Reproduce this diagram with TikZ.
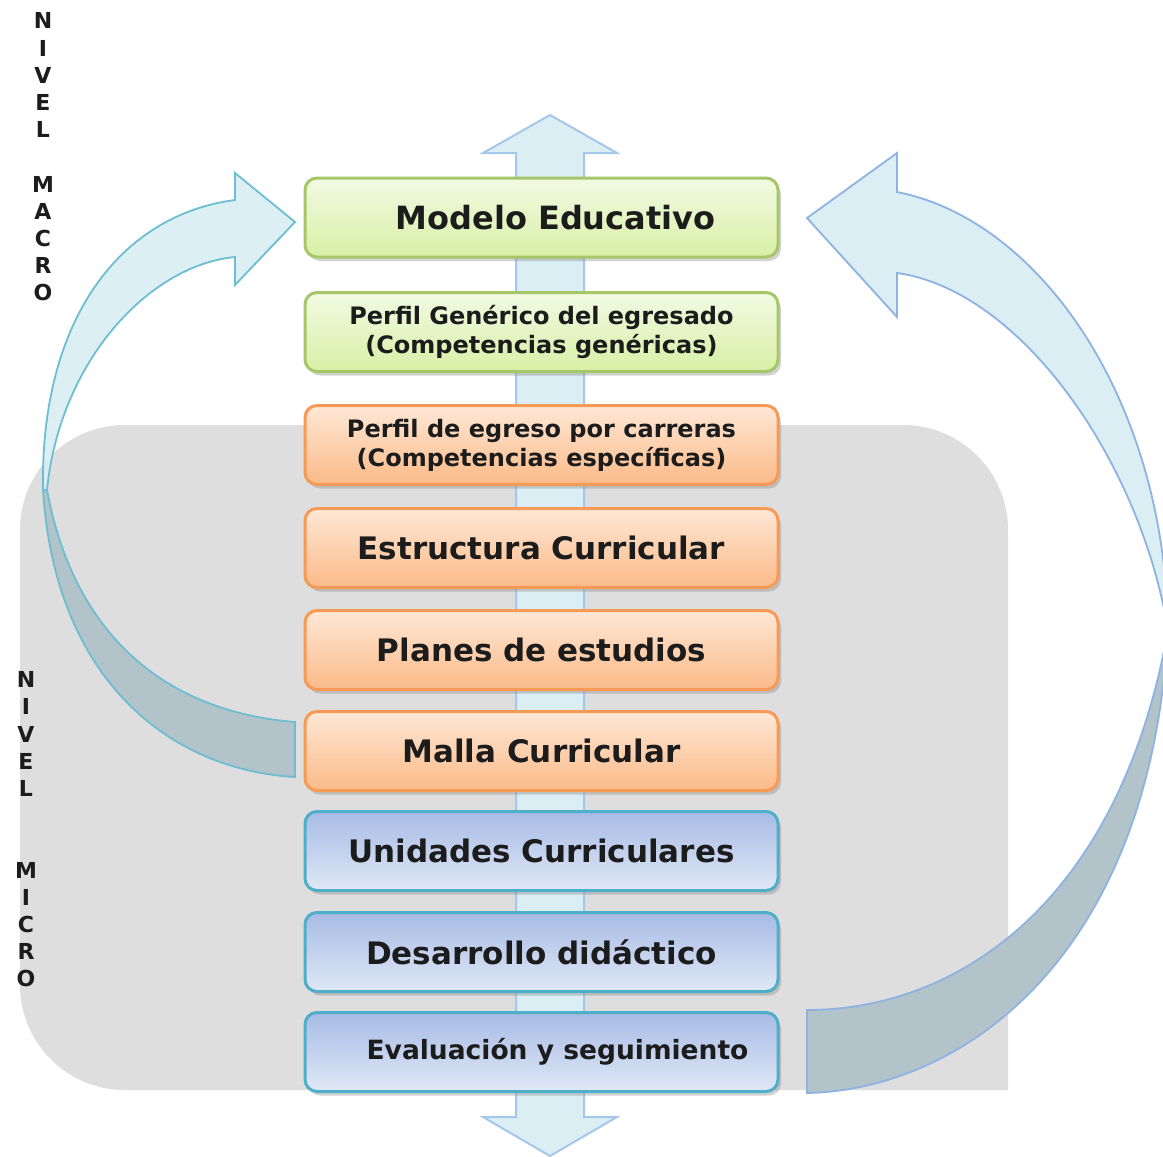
\documentclass[tikz,border=0pt]{standalone}
\usepackage{fontspec}
\setmainfont{DejaVu Sans}
\usetikzlibrary{shadows}
\definecolor{gbord}{HTML}{A6C66A}
\definecolor{gtop}{HTML}{F2FAE3}
\definecolor{gbot}{HTML}{D7F0A6}
\definecolor{obord}{HTML}{F79A55}
\definecolor{otop}{HTML}{FEE8D7}
\definecolor{obot}{HTML}{FBBA87}
\definecolor{bbord}{HTML}{4FAFC8}
\definecolor{btop}{HTML}{A7BBE5}
\definecolor{bbot}{HTML}{DFE8F5}
\definecolor{arlight}{HTML}{DAEEF3}
\definecolor{ardark}{HTML}{B3C3CA}
\definecolor{lborder}{HTML}{6DBDD3}
\definecolor{rborder}{HTML}{8DB3E2}
\definecolor{bggray}{HTML}{DEDEDE}
\definecolor{shaftb}{HTML}{A5C8EA}
\definecolor{txt}{HTML}{1C1C1C}
\begin{document}
\begin{tikzpicture}[x=1pt,y=-1pt,
  stage/.style={rounded corners=12pt, minimum width=473pt, minimum height=79pt,
    line width=3pt, inner sep=0pt, align=center, text=txt,
    drop shadow={opacity=0.35, shadow xshift=3pt, shadow yshift=-4pt}},
  greenbox/.style={stage, draw=gbord, top color=gtop, bottom color=gbot},
  orangebox/.style={stage, draw=obord, top color=otop, bottom color=obot},
  bluebox/.style={stage, draw=bbord, top color=btop, bottom color=bbot},
  bigtext/.style={font=\fontsize{31}{34}\selectfont\bfseries},
  smalltext/.style={font=\fontsize{24}{29}\selectfont\bfseries},
  vert/.style={font=\fontsize{22}{27.2}\selectfont\bfseries, align=center, text=txt, inner sep=0pt},
  lightarrow/.style={fill=arlight, line width=1.8pt},
  darkarrow/.style={fill=ardark, line width=1.8pt}
]
\clip (0,0) rectangle (1163,1157);
\fill[white] (0,0) rectangle (1163,1157);

% gray background panel
\fill[bggray] (1008,1090) -- (1008,800) [rounded corners=105pt] -- (1008,425) -- (20,425) -- (20,1090) -- (500,1090) [sharp corners] -- cycle;

% central double arrow
\filldraw[fill=arlight, draw=shaftb, line width=2pt]
  (516,153) -- (483,153) -- (550,115) -- (617,153) -- (584,153) -- (584,1117)
  -- (617,1117) -- (550,1156) -- (483,1117) -- (516,1117) -- cycle;

% boxes
\node[greenbox, font=\fontsize{32}{34}\selectfont\bfseries] (modelo) at (541.5,217.5) {\hspace*{28pt}Modelo Educativo};
\node[greenbox, smalltext] (perfilgen) at (541.5,332) {Perfil Genérico del egresado\\(Competencias genéricas)};
\node[orangebox, smalltext] (perfilcar) at (541.5,445) {Perfil de egreso por carreras\\(Competencias específicas)};
\node[orangebox, bigtext] (estructura) at (541.5,548) {Estructura Curricular};
\node[orangebox, bigtext] (planes) at (541.5,650) {Planes de estudios};
\node[orangebox, bigtext] (malla) at (541.5,751) {Malla Curricular};
\node[bluebox, bigtext] (unidades) at (541.5,851) {Unidades Curriculares};
\node[bluebox, bigtext] (desarrollo) at (541.5,952) {Desarrollo didáctico};
\node[bluebox, font=\fontsize{26.5}{30}\selectfont\bfseries] (evaluacion) at (541.5,1052) {\hspace*{32pt}Evaluación y seguimiento};

% left curved arrow (Malla Curricular -> Modelo Educativo)
\filldraw[darkarrow, draw=lborder]
  (295,722) .. controls (170,712) and (75,640) .. (47,490)
  -- (43,490) .. controls (55,680) and (170,770) .. (295,777) -- cycle;
\filldraw[lightarrow, draw=lborder, fill opacity=0.92]
  (43,490) .. controls (40,320) and (120,215) .. (235,200)
  -- (235,173) -- (295,222) -- (235,285) -- (235,257)
  .. controls (150,265) and (60,360) .. (47,490) -- cycle;

% right curved arrow (Evaluación -> Modelo Educativo)
\filldraw[darkarrow, draw=rborder]
  (807,1010) .. controls (960,1010) and (1120,900) .. (1168,630)
  .. controls (1150,960) and (960,1090) .. (807,1093) -- cycle;
\filldraw[lightarrow, draw=rborder]
  (1168,630) .. controls (1165,400) and (1040,220) .. (897,192)
  -- (897,153) -- (807,218) -- (897,317) -- (897,273)
  .. controls (1020,290) and (1140,460) .. (1168,630) -- cycle;

% level labels
\node[vert] (macro) at (43,157) {N\\I\\V\\E\\L\\~\\M\\A\\C\\R\\O};
\node[vert] (micro) at (26,829.5) {N\\I\\V\\E\\L\\~\\~\\M\\I\\C\\R\\O};
\end{tikzpicture}
\end{document}
